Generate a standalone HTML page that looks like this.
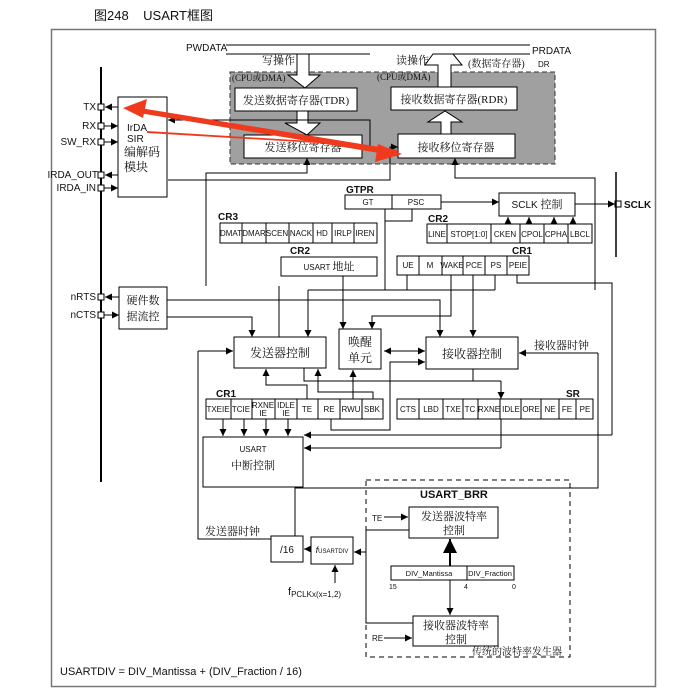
<!DOCTYPE html>
<html><head><meta charset="utf-8"><style>
html,body{margin:0;padding:0;background:#fff;}
svg{display:block}
text{font-family:"Liberation Sans","Noto Sans CJK SC",sans-serif;fill:#111}
.s{font-family:"Liberation Serif","Noto Serif CJK SC",serif}
</style></head><body>
<svg width="690" height="693" viewBox="0 0 690 693" xmlns="http://www.w3.org/2000/svg">
<defs>
<marker id="a" viewBox="0 0 10 10" refX="10" refY="5" markerWidth="7" markerHeight="7" orient="auto-start-reverse"><path d="M0,0 L10,5 L0,10 z" fill="#000"/></marker>
</defs>
<text x="94" y="20" font-size="13">图248 &#160;&#160; USART框图</text>
<rect x="51.5" y="29.5" width="604" height="657" fill="none" stroke="#777" stroke-width="1.5"/>

<g stroke="#000" stroke-width="1" fill="none">
<!-- top bus lines -->
<line x1="226" y1="45" x2="530" y2="45"/>
<line x1="226" y1="54" x2="297" y2="54"/>
<polyline points="309,54 370,54"/>
<line x1="453" y1="54" x2="530" y2="54"/>
</g>
<text x="186" y="51" font-size="10">PWDATA</text>
<text x="532" y="54" font-size="10">PRDATA</text>
<text x="262" y="64" font-size="11" class="s">写操作</text>
<text x="396" y="64" font-size="11" class="s">读操作</text>
<text x="468" y="67" font-size="10" class="s">(数据寄存器)</text><text x="538" y="67" font-size="8">DR</text>

<!-- gray DR region -->
<rect x="230" y="72" width="325" height="92" fill="#a0a0a0" stroke="#333" stroke-dasharray="5,3"/>
<text x="232" y="81" font-size="9" class="s">(CPU或DMA)</text>
<text x="377" y="80" font-size="9" class="s">(CPU或DMA)</text>
<!-- hollow arrows -->
<g fill="#fff" stroke="#000" stroke-width="1">
<polygon points="297,54 297,75 288,75 305,88 320,75 309,75 309,54"/>
<polygon points="297,111 297,123 285,123 307,135 320,123 308,123 308,111"/>
<polygon points="438,88 438,65 425,65 433,54 453,54 462,65 451,65 451,88"/>
<polygon points="441,134 441,122 428,122 445,111 462,122 451,122 451,134"/>
<rect x="235" y="88" width="122" height="23"/>
<rect x="391" y="87" width="126" height="23"/>
<rect x="244" y="135" width="118" height="23"/>
<rect x="398" y="134" width="117" height="24"/>
</g>
<text x="296" y="104" font-size="11" text-anchor="middle" class="s">发送数据寄存器(TDR)</text>
<text x="454" y="103" font-size="11" text-anchor="middle" class="s">接收数据寄存器(RDR)</text>
<text x="303" y="151" font-size="11" text-anchor="middle" class="s">发送移位寄存器</text>
<text x="456" y="151" font-size="11" text-anchor="middle" class="s">接收移位寄存器</text>

<!-- left bus & pins -->
<line x1="101" y1="67" x2="101" y2="482" stroke="#000" stroke-width="2"/>
<g fill="#fff" stroke="#000">
<rect x="98" y="104" width="6" height="6"/><rect x="98" y="123" width="6" height="6"/><rect x="98" y="139" width="6" height="6"/>
<rect x="98" y="172" width="6" height="6"/><rect x="98" y="185" width="6" height="6"/>
<rect x="98" y="294" width="6" height="6"/><rect x="98" y="312" width="6" height="6"/>
<rect x="118" y="97" width="49" height="100"/>
<rect x="119" y="287" width="48" height="42"/>
</g>
<g font-size="10" text-anchor="end">
<text x="96" y="110">TX</text><text x="96" y="129">RX</text><text x="96" y="145">SW_RX</text>
<text x="98" y="178">IRDA_OUT</text><text x="96" y="191">IRDA_IN</text>
<text x="96" y="300">nRTS</text><text x="96" y="318">nCTS</text>
</g>
<text x="127" y="131" font-size="10">IrDA</text><text x="127" y="142" font-size="10">SIR</text>
<text x="124" y="156" font-size="12" class="s">编解码</text><text x="124" y="171" font-size="12" class="s">模块</text>
<text x="143" y="304" font-size="11" text-anchor="middle" class="s">硬件数</text>
<text x="143" y="320" font-size="11" text-anchor="middle" class="s">据流控</text>
<g stroke="#000" fill="none" marker-end="url(#a)">
<line x1="118" y1="107" x2="105" y2="107"/>
<line x1="104" y1="126" x2="118" y2="126"/>
<line x1="104" y1="142" x2="118" y2="142"/>
<line x1="118" y1="175" x2="105" y2="175"/>
<line x1="104" y1="188" x2="118" y2="188"/>
<line x1="119" y1="297" x2="105" y2="297"/>
<line x1="104" y1="315" x2="119" y2="315"/>
<polyline points="362,147 370,147 370,120 168,120"/>
<polyline points="168,180 390,180 390,147 398,147"/>
<polyline points="206,286 206,173 307,173 307,158"/>
<polyline points="595,290 595,178 455,178 455,158"/>
</g>

<!-- GTPR / SCLK -->
<text x="346" y="193" font-size="10" font-weight="bold">GTPR</text>
<g fill="#fff" stroke="#000">
<rect x="345" y="195" width="96" height="14"/><line x1="392" y1="195" x2="392" y2="209"/>
<rect x="499" y="193" width="76" height="23"/>
<rect x="615" y="201" width="6" height="6"/>
</g>
<text x="368" y="205" font-size="8" text-anchor="middle">GT</text>
<text x="416" y="205" font-size="8" text-anchor="middle">PSC</text>
<text x="537" y="208" font-size="10" text-anchor="middle">SCLK <tspan class="s" font-size="11">控制</tspan></text>
<line x1="616" y1="172" x2="616" y2="257" stroke="#000" stroke-width="1.5"/>
<text x="624" y="208" font-size="10" font-weight="bold">SCLK</text>
<g stroke="#000" fill="none" marker-end="url(#a)">
<line x1="441" y1="202" x2="499" y2="202"/>
<line x1="575" y1="204" x2="615" y2="204"/>
<line x1="508" y1="224" x2="508" y2="217"/><line x1="529" y1="224" x2="529" y2="217"/>
<line x1="554" y1="224" x2="554" y2="217"/><line x1="573" y1="224" x2="573" y2="217"/>
</g>

<!-- CR3 -->
<text x="218" y="220" font-size="10" font-weight="bold">CR3</text>
<g fill="#fff" stroke="#000"><rect x="220" y="223" width="157" height="20"/>
<path d="M242,223V243M266,223V243M289,223V243M313,223V243M332,223V243M354,223V243"/></g>
<g font-size="8" text-anchor="middle"><text x="231" y="236">DMAT</text><text x="254" y="236">DMAR</text><text x="277" y="236">SCEN</text><text x="301" y="236">NACK</text><text x="322" y="236">HD</text><text x="343" y="236">IRLP</text><text x="365" y="236">IREN</text></g>
<!-- CR2 upper -->
<text x="428" y="222" font-size="10" font-weight="bold">CR2</text>
<g fill="#fff" stroke="#000"><rect x="427" y="224" width="165" height="19"/>
<path d="M447,224V243M491,224V243M520,224V243M544,224V243M568,224V243"/></g>
<g font-size="8" text-anchor="middle"><text x="437" y="237">LINE</text><text x="469" y="237">STOP[1:0]</text><text x="505" y="237">CKEN</text><text x="532" y="237">CPOL</text><text x="556" y="237">CPHA</text><text x="580" y="237">LBCL</text></g>
<!-- CR2 addr -->
<text x="290" y="254" font-size="10" font-weight="bold">CR2</text>
<rect x="281" y="257" width="96" height="19" fill="#fff" stroke="#000"/>
<text x="329" y="270" font-size="8" text-anchor="middle">USART <tspan class="s" font-size="11">地址</tspan></text>
<!-- CR1 upper -->
<text x="512" y="254" font-size="10" font-weight="bold">CR1</text>
<g fill="#fff" stroke="#000"><rect x="397" y="256" width="132" height="19"/>
<path d="M419,256V275M442,256V275M463,256V275M485,256V275M507,256V275"/></g>
<g font-size="8" text-anchor="middle"><text x="408" y="268">UE</text><text x="430" y="268">M</text><text x="452" y="268">WAKE</text><text x="474" y="268">PCE</text><text x="496" y="268">PS</text><text x="518" y="268">PEIE</text></g>

<!-- middle blocks -->
<g fill="#fff" stroke="#000">
<rect x="234" y="337" width="92" height="31"/>
<rect x="339" y="329" width="42" height="40"/>
<rect x="426" y="337" width="92" height="32"/>
</g>
<text x="280" y="357" font-size="12" text-anchor="middle" class="s">发送器控制</text>
<text x="360" y="346" font-size="12" text-anchor="middle" class="s">唤醒</text>
<text x="360" y="362" font-size="12" text-anchor="middle" class="s">单元</text>
<text x="472" y="358" font-size="12" text-anchor="middle" class="s">接收器控制</text>
<text x="534" y="349" font-size="11" class="s">接收器时钟</text>

<g stroke="#000" fill="none">
<line x1="385" y1="209" x2="385" y2="290"/>
<polyline points="412,209 412,221 385,221"/>
<line x1="308" y1="290" x2="495" y2="290"/>
<line x1="407" y1="275" x2="407" y2="290"/><line x1="495" y1="275" x2="495" y2="290"/>
<polyline points="279,286 279,337"/>
<polyline points="517,275 517,283 612,283 612,435"/>
<polyline points="304,368 304,381 501,381"/>
<polyline points="473,369 473,381"/>
<line x1="501" y1="419" x2="501" y2="448"/>
<polyline points="598,353 598,488 295,488 295,536"/>
<polyline points="198,351 198,539 271,539"/>
<polyline points="167,300 440,300 440,310"/>
<polyline points="167,317 252,317 252,330"/>
</g>
<g stroke="#000" fill="none" marker-end="url(#a)">
<line x1="308" y1="290" x2="308" y2="337"/>
<polyline points="451,275 451,316 372,316 372,329"/>
<line x1="343" y1="276" x2="343" y2="329"/>
<line x1="473" y1="275" x2="473" y2="337"/>
<line x1="440" y1="305" x2="440" y2="337"/>
<line x1="252" y1="325" x2="252" y2="337"/>
<line x1="598" y1="353" x2="519" y2="353"/>
<line x1="501" y1="381" x2="501" y2="399"/>
<line x1="198" y1="351" x2="233" y2="351"/>
<line x1="384" y1="351" x2="425" y2="351" marker-start="url(#a)"/>
<polyline points="331,419 331,430 390,430 390,362 425,362"/>
<polyline points="307,399 307,385 266,385 266,369"/>
<polyline points="373,399 373,392 318,392 318,369"/>
<line x1="353" y1="399" x2="353" y2="370"/>
<line x1="223" y1="419" x2="223" y2="436"/><line x1="244" y1="419" x2="244" y2="436"/>
<line x1="266" y1="419" x2="266" y2="436"/><line x1="288" y1="419" x2="288" y2="436"/>
<line x1="612" y1="435" x2="304" y2="435"/>
<line x1="501" y1="448" x2="304" y2="448"/>
</g>

<!-- CR1 lower -->
<text x="216" y="397" font-size="10" font-weight="bold">CR1</text>
<g fill="#fff" stroke="#000"><rect x="206" y="399" width="177" height="20"/>
<path d="M231,399V419M252,399V419M275,399V419M297,399V419M318,399V419M340,399V419M362,399V419"/></g>
<g font-size="8" text-anchor="middle"><text x="218" y="412">TXEIE</text><text x="241" y="412">TCIE</text><text x="263" y="408">RXNE</text><text x="263" y="416">IE</text><text x="286" y="408">IDLE</text><text x="286" y="416">IE</text><text x="307" y="412">TE</text><text x="329" y="412">RE</text><text x="351" y="412">RWU</text><text x="372" y="412">SBK</text></g>
<!-- SR -->
<text x="566" y="397" font-size="10" font-weight="bold">SR</text>
<g fill="#fff" stroke="#000"><rect x="397" y="399" width="196" height="20"/>
<path d="M419,399V419M443,399V419M463,399V419M478,399V419M500,399V419M521,399V419M541,399V419M559,399V419M576,399V419"/></g>
<g font-size="8" text-anchor="middle"><text x="408" y="412">CTS</text><text x="431" y="412">LBD</text><text x="453" y="412">TXE</text><text x="470" y="412">TC</text><text x="489" y="412">RXNE</text><text x="511" y="412">IDLE</text><text x="531" y="412">ORE</text><text x="550" y="412">NE</text><text x="567" y="412">FE</text><text x="585" y="412">PE</text></g>

<!-- interrupt -->
<rect x="203" y="437" width="100" height="50" fill="#fff" stroke="#000"/>
<text x="253" y="452" font-size="8" text-anchor="middle">USART</text>
<text x="253" y="469" font-size="11" text-anchor="middle" class="s">中断控制</text>
<text x="205" y="535" font-size="11" class="s">发送器时钟</text>

<!-- BRR -->
<rect x="366" y="480" width="204" height="177" fill="none" stroke="#000" stroke-dasharray="5,4"/>
<text x="420" y="498" font-size="11" font-weight="bold">USART_BRR</text>
<g fill="#fff" stroke="#000">
<rect x="409" y="507" width="89" height="31"/>
<rect x="413" y="616" width="85" height="30"/>
<rect x="391" y="566" width="123" height="14"/><line x1="467" y1="566" x2="467" y2="580"/>
<rect x="271" y="536" width="32" height="26"/>
<rect x="311" y="537" width="42" height="27"/>
</g>
<text x="454" y="520" font-size="11" text-anchor="middle" class="s">发送器波特率</text>
<text x="454" y="534" font-size="11" text-anchor="middle" class="s">控制</text>
<text x="456" y="629" font-size="11" text-anchor="middle" class="s">接收器波特率</text>
<text x="456" y="643" font-size="11" text-anchor="middle" class="s">控制</text>
<text x="429" y="576" font-size="7.5" text-anchor="middle">DIV_Mantissa</text>
<text x="490" y="576" font-size="7.5" text-anchor="middle">DIV_Fraction</text>
<g font-size="7"><text x="389" y="589">15</text><text x="464" y="589">4</text><text x="512" y="589">0</text></g>
<text x="372" y="521" font-size="8">TE</text><text x="372" y="641" font-size="8">RE</text>
<text x="472" y="655" font-size="10" class="s">传统的波特率发生器</text>
<text x="287" y="553" font-size="10" text-anchor="middle">/16</text>
<text x="332" y="553" font-size="6" text-anchor="middle"><tspan font-size="9" font-style="italic">f</tspan>USARTDIV</text>
<text x="288" y="595" font-size="11">f<tspan font-size="8" dy="2">PCLKx(x=1,2)</tspan></text>
<g stroke="#000" fill="none">
<polyline points="409,530 366,530 366,623 413,623"/>
</g>
<g stroke="#000" fill="none" marker-end="url(#a)">
<line x1="384" y1="517" x2="408" y2="517"/>
<line x1="384" y1="638" x2="412" y2="638"/>
<line x1="450" y1="566" x2="450" y2="539" stroke-width="2"/>
<line x1="450" y1="580" x2="450" y2="615"/>
<line x1="366" y1="552" x2="354" y2="552"/>
<line x1="311" y1="549" x2="304" y2="549"/>
<line x1="335" y1="583" x2="335" y2="565"/>
</g>

<text x="60" y="675" font-size="11">USARTDIV = DIV_Mantissa + (DIV_Fraction / 16)</text>

<!-- red annotation arrows -->
<g fill="#f03a1e" stroke="none">
<polygon points="140,108 398,150 397,156 139,113"/>
<polygon points="123,108 147,99 143,118"/>
<polygon points="402,154 378,144 375,162"/>
<polygon points="147,131 360,144 360,145.5 147,133"/>
</g>
</svg>
</body></html>
